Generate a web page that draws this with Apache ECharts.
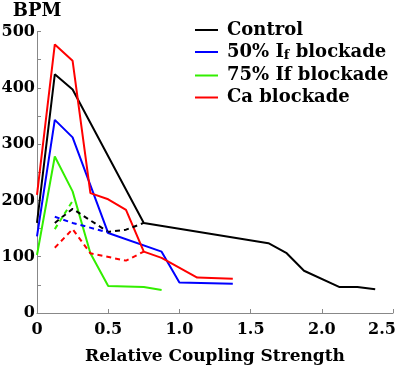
<!DOCTYPE html>
<html>
<head>
<meta charset="utf-8">
<script src="https://cdn.jsdelivr.net/npm/echarts@6/dist/echarts.min.js"></script>
<style>
  html, body { margin: 0; padding: 0; background: #fff; }
  #chart { width: 397px; height: 371px; }
</style>
</head>
<body>
<div id="chart"></div>
<script>
// data: [relative coupling strength, BPM]
const control = [[0,160],[0.125,424],[0.25,397],[0.75,160],[1.625,124],[1.75,107],[1.875,75],[2.125,46],[2.25,46],[2.375,42]];
const if50 = [[0,136],[0.125,343],[0.25,312],[0.5,142],[0.875,109],[1.0,54],[1.375,52]];
const if75 = [[0,103],[0.125,278],[0.25,216],[0.375,106],[0.5,48],[0.75,46],[0.875,41]];
const caBlock = [[0,210],[0.125,477],[0.25,448],[0.375,213],[0.5,202],[0.625,183],[0.75,109],[0.875,98],[1.125,63],[1.375,61]];

// dashed branches
const controlDash = [[0.125,160],[0.25,185],[0.5,144],[0.625,148],[0.75,160]];
const if50Dash = [[0.125,171],[0.25,160],[0.5,143]];
const if75Dash = [[0.125,149],[0.25,199]];
const caDash = [[0.125,116],[0.25,149],[0.375,106],[0.625,93],[0.75,109]];

const names = ['Control', '50% If blockade', '75% If blockade', 'Ca blockade'];
const colors = ['#000000', '#0000ff', '#33ee00', '#ff0000'];

const chart = echarts.init(document.getElementById('chart'));
const font = 'DejaVu Serif';

function solid(name, data, color) {
  return {
    name: name, type: 'line', data: data, symbol: 'none',
    lineStyle: { width: 2, color: color }, itemStyle: { color: color }
  };
}
function dashed(name, data, color) {
  return {
    name: name, type: 'line', data: data, symbol: 'none',
    lineStyle: { width: 2, color: color, type: [5, 4] }, itemStyle: { color: color }
  };
}

const option = {
  animation: false,
  grid: { left: 37, right: 4, top: 31.5, bottom: 58, outerBoundsMode: 'none' },
  legend: {
    data: names.map(n => ({ name: n, icon: 'rect' })),
    orient: 'vertical',
    left: 190,
    top: 16,
    itemWidth: 23,
    itemHeight: 2,
    itemGap: 4,
    textStyle: {
      fontFamily: font, fontWeight: 'bold', fontSize: 18, color: '#000',
      padding: [0, 0, 0, 4],
      rich: {
        b: { fontFamily: font, fontWeight: 'bold', fontSize: 18, color: '#000' },
        sub: { fontFamily: font, fontWeight: 'bold', fontSize: 13, color: '#000', padding: [8, 0, 0, 0], verticalAlign: 'bottom' }
      }
    },
    formatter: function (n) {
      if (n === '50% If blockade') return '{b|50% I}{sub|f}{b| blockade}';
      return n;
    }
  },
  xAxis: {
    type: 'value',
    min: 0, max: 2.5, interval: 0.5,
    name: 'Relative Coupling Strength',
    nameLocation: 'middle',
    nameGap: 35,
    nameTextStyle: { fontFamily: font, fontWeight: 'bold', fontSize: 17, color: '#000' },
    axisLine: { lineStyle: { color: '#888' } },
    axisTick: { inside: true, length: 4, lineStyle: { color: '#888' } },
    splitLine: { show: false },
    axisLabel: {
      fontFamily: font, fontWeight: 'bold', fontSize: 16, color: '#000', margin: 9,
      formatter: function (v) {
        if (v === 0) return '0';
        if (v === 2.5) return '{r|2.5}';
        return v.toFixed(1);
      },
      rich: { r: { fontFamily: font, fontWeight: 'bold', fontSize: 16, color: '#000', padding: [0, 22, 0, 0] } }
    }
  },
  yAxis: {
    type: 'value',
    min: 0, max: 500, interval: 100,
    name: 'BPM',
    nameLocation: 'end',
    nameGap: 11,
    nameTextStyle: { fontFamily: font, fontWeight: 'bold', fontSize: 18, color: '#000' },
    axisLine: { show: true, lineStyle: { color: '#888' } },
    axisTick: { show: true, inside: true, length: 4, lineStyle: { color: '#888' } },
    minorTick: { show: true, splitNumber: 2, length: 4, lineStyle: { color: '#888' } },
    splitLine: { show: false },
    axisLabel: { fontFamily: font, fontWeight: 'bold', fontSize: 16, color: '#000', margin: 2 }
  },
  series: [
    solid(names[0], control, colors[0]),
    solid(names[1], if50, colors[1]),
    solid(names[2], if75, colors[2]),
    solid(names[3], caBlock, colors[3]),
    dashed('Control (dashed)', controlDash, colors[0]),
    dashed('50% If (dashed)', if50Dash, colors[1]),
    dashed('75% If (dashed)', if75Dash, colors[2]),
    dashed('Ca (dashed)', caDash, colors[3])
  ]
};

chart.setOption(option);
</script>
</body>
</html>
